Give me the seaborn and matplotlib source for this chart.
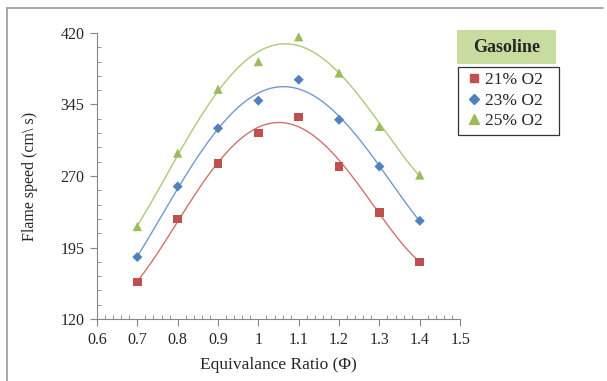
import pandas as pd
import seaborn as sns
import matplotlib.pyplot as plt
from matplotlib.lines import Line2D
from matplotlib.patches import Rectangle
from matplotlib.ticker import MultipleLocator

# equivalence ratio values
phi = [0.7, 0.8, 0.9, 1.0, 1.1, 1.2, 1.3, 1.4]

# flame speed (cm/s) for each oxygen level
speed_21 = [159, 225, 283, 315, 332, 280, 232, 180]
speed_23 = [185, 259, 320, 349, 371, 329, 280, 223]
speed_25 = [217, 294, 361, 390, 416, 378, 322, 271]

series_labels = ["21% O2", "23% O2", "25% O2"]
x_ticks = [0.6, 0.7, 0.8, 0.9, 1.0, 1.1, 1.2, 1.3, 1.4, 1.5]
x_ticklabels = ["0.6", "0.7", "0.8", "0.9", "1", "1.1", "1.2", "1.3", "1.4", "1.5"]
y_ticks = [120, 195, 270, 345, 420]

colors = ["#C0504D", "#4F81BD", "#9BBB59"]
markers = ["s", "D", "^"]
marker_sizes = [38, 26, 44]

sns.set_style("white")
plt.rcParams["font.family"] = ["Liberation Serif", "DejaVu Serif"]

fig = plt.figure(figsize=(6.07, 3.81), dpi=100)
ax = fig.add_axes([0.1598, 0.1627, 0.5982, 0.7507])

rows = []
for lab, vals in zip(series_labels, [speed_21, speed_23, speed_25]):
    for x, y in zip(phi, vals):
        rows.append({"phi": x, "speed": y, "series": lab})
df = pd.DataFrame(rows)

# polynomial trend lines
for lab, col in zip(series_labels, colors):
    sub = df[df["series"] == lab]
    sns.regplot(data=sub, x="phi", y="speed", order=4, ci=None, scatter=False,
                ax=ax, line_kws={"color": col, "linewidth": 1.0, "alpha": 0.8})

for lab, col, m, s in zip(series_labels, colors, markers, marker_sizes):
    sub = df[df["series"] == lab]
    sns.scatterplot(data=sub, x="phi", y="speed", color=col, marker=m, s=s,
                    edgecolor="none", ax=ax, zorder=3)

ax.set_xlim(0.6, 1.5)
ax.set_ylim(120, 420)
ax.set_xticks(x_ticks)
ax.set_xticklabels(x_ticklabels)
ax.set_yticks(y_ticks)
ax.xaxis.set_minor_locator(MultipleLocator(0.02))
ax.yaxis.set_minor_locator(MultipleLocator(15))

for side in ["top", "right"]:
    ax.spines[side].set_visible(False)
for side in ["left", "bottom"]:
    ax.spines[side].set_color("#868686")
    ax.spines[side].set_linewidth(0.8)

ax.tick_params(which="both", bottom=True, left=True)
ax.tick_params(which="major", direction="out", length=5, width=0.8, color="#868686",
               labelsize=11.5, labelcolor="#262626", pad=4)
ax.tick_params(which="minor", direction="in", length=3, width=0.6, color="#868686")

ax.set_xlabel("Equivalance Ratio (\u03a6)", fontsize=12.5, labelpad=7, color="#262626")
ax.set_ylabel("Flame speed (cm\\ s)", fontsize=11.5, labelpad=16, color="#262626")

handles = [Line2D([], [], linestyle="none", marker=m, color=c, markersize=ms)
           for m, c, ms in zip(markers, colors, [6, 5, 6.5])]
leg = fig.legend(handles, series_labels, loc="upper left",
                 bbox_to_anchor=(0.7545, 0.651, 0.1665, 0.173),
                 bbox_transform=fig.transFigure, mode="expand",
                 frameon=True, fancybox=False, fontsize=12.5, handletextpad=0.05,
                 handlelength=1.2, borderpad=0.3, labelspacing=0.25,
                 borderaxespad=0)
leg.get_frame().set_edgecolor("black")
leg.get_frame().set_linewidth(0.9)

# "Gasoline" title box
fig.patches.append(Rectangle((0.753, 0.832), 0.163, 0.088, transform=fig.transFigure,
                             facecolor="#C9DC9F", edgecolor="none"))
fig.text(0.8345, 0.876, "Gasoline", ha="center", va="center", fontsize=13,
         fontweight="bold")

# outer frame lines (left and top only)
fig.add_artist(Line2D([7 / 607, 7 / 607], [0, 1 - 8 / 381], color="#9A9A9A",
                      linewidth=1.2, transform=fig.transFigure))
fig.add_artist(Line2D([7 / 607, 603 / 607], [1 - 8 / 381, 1 - 8 / 381], color="#9A9A9A",
                      linewidth=1.2, transform=fig.transFigure))

fig.savefig("out.png", dpi=100)
